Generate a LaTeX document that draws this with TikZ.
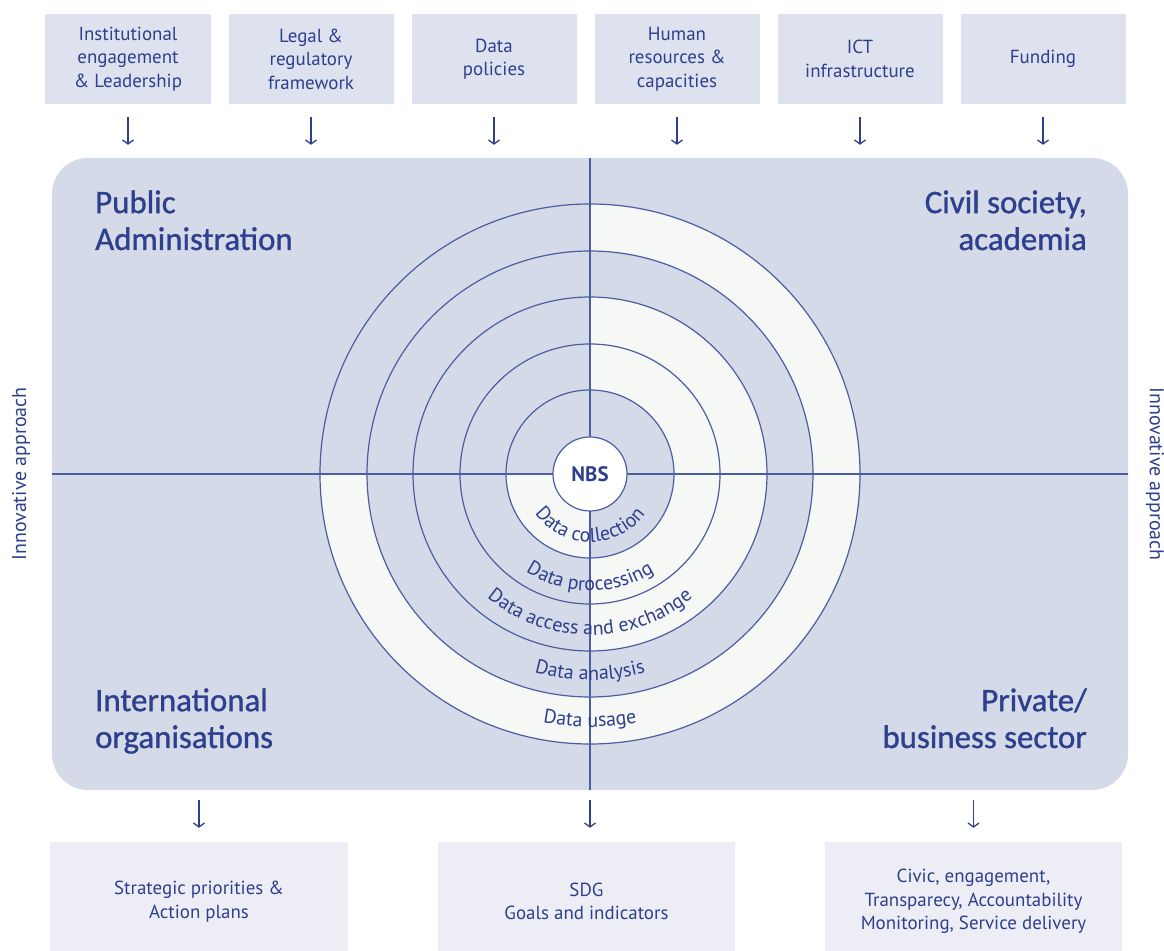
\documentclass[tikz,border=0pt]{standalone}
\usepackage{fontspec}
\setmainfont{PT Sans}
\newfontfamily\headfont[FakeBold=1]{Carlito}
\usetikzlibrary{arrows.meta, decorations.text}

\definecolor{ink}{HTML}{2E3F8D}
\definecolor{rulecol}{HTML}{4D5DA2}
\definecolor{panel}{HTML}{D4DAE8}
\definecolor{topfill}{HTML}{DEE2EE}
\definecolor{botfill}{HTML}{EDEEF5}
\definecolor{pale}{HTML}{F6F8F5}

\newcommand{\boxfont}{\fontsize{19}{23.5}\selectfont}
\newcommand{\headsize}{\headfont\fontsize{33}{37}\selectfont}
\newcommand{\ringfont}{\fontsize{20}{22}\selectfont}

\tikzset{
	topbox/.style={fill=topfill, minimum width=165bp, minimum height=90bp, inner sep=0pt, align=center, text=ink, font=\boxfont},
	botbox/.style={fill=botfill, minimum width=297bp, minimum height=119bp, inner sep=0pt, align=center, text=ink, font=\boxfont},
	quad/.style={text=ink, font=\headsize, inner sep=0pt},
	rule/.style={draw=rulecol, line width=1.2bp},
	down/.style={draw=ink, line width=1.3bp, -{Straight Barb[length=4bp, width=11bp]}},
	ringtext/.style={decorate, decoration={text along path, text align=center, text color=ink, text={|\ringfont|#1}}},
}

\begin{document}
\begin{tikzpicture}[x=1bp, y=1bp]
	\useasboundingbox (0,0) rectangle (1164,951);
	\coordinate (C) at (590,477);

	\node[fill=panel, rounded corners=36bp, minimum width=1076bp, minimum height=632bp] (main) at (C) {};

	\begin{scope}[shift={(C)}]
		\fill[pale] (180:270) arc[start angle=180, end angle=450, radius=270] -- (90:223) arc[start angle=90, end angle=-180, radius=223] -- cycle;
		\fill[pale] (-90:177) arc[start angle=-90, end angle=90, radius=177] -- (90:84) arc[start angle=90, end angle=-90, radius=84] -- cycle;
		\fill[pale] (180:84) arc[start angle=180, end angle=270, radius=84] -- (270:37) arc[start angle=270, end angle=180, radius=37] -- cycle;
	\end{scope}

	\draw[rule] (main.north) -- (main.south);
	\draw[rule] (main.west) -- (main.east);
	\foreach \r in {84,130,177,223,270}
		\draw[rule] (C) circle (\r);
	\node[circle, fill=white, draw=rulecol, line width=1.2bp, minimum size=74bp, inner sep=0pt, text=ink, font=\fontsize{21}{24}\selectfont\bfseries] (nbs) at (C) {NBS};

	\foreach \r/\lbl in {68/Data collection, 117/Data processing, 161/Data access and exchange, 206/Data analysis, 253/Data usage}
		\path[ringtext/.expanded=\lbl] (C) ++(185:\r) arc[start angle=185, end angle=355, radius=\r];

	\node[quad, anchor=base west, align=left] (pa) at (95,701) {Public\\Administration};
	\node[quad, anchor=base east, align=right] (cs) at (1087,701) {Civil society,\\academia};
	\node[quad, anchor=base west, align=left] (io) at (95,203) {International\\organisations};
	\node[quad, anchor=base east, align=right] (pb) at (1087,203) {Private/\\business sector};

	\node[rotate=90, text=ink, font=\fontsize{20}{22}\selectfont] (sideL) at (21,477) {Innovative approach};
	\node[rotate=-90, text=ink, font=\fontsize{20}{22}\selectfont] (sideR) at (1155,477) {Innovative approach};

	\foreach \lbl [count=\i] in {{Institutional\\engagement\\\& Leadership}, {Legal \&\\regulatory\\framework}, {Data\\policies}, {Human\\resources \&\\capacities}, {ICT\\infrastructure}, Funding}
	{
		\node[topbox] (t\i) at ({128+183*(\i-1)},892) {\lbl};
		\draw[down, shorten <=13bp, shorten >=13bp] (t\i.south) -- (t\i.south |- main.north);
	}

	\node[botbox] (b1) at (199,49.5) {Strategic priorities \&\\Action plans};
	\node[botbox] (b2) at (586.5,49.5) {SDG\\Goals and indicators};
	\node[botbox] (b3) at (973.5,49.5) {Civic, engagement,\\Transparecy, Accountability\\Monitoring, Service delivery};

	\draw[down, shorten <=10bp, shorten >=14bp] (b1.north |- main.south) -- (b1.north);
	\draw[down, shorten <=10bp, shorten >=14bp] (main.south) -- (main.south |- b2.north);
	\draw[down, shorten <=10bp, shorten >=14bp] (b3.north |- main.south) -- (b3.north);
\end{tikzpicture}
\end{document}
